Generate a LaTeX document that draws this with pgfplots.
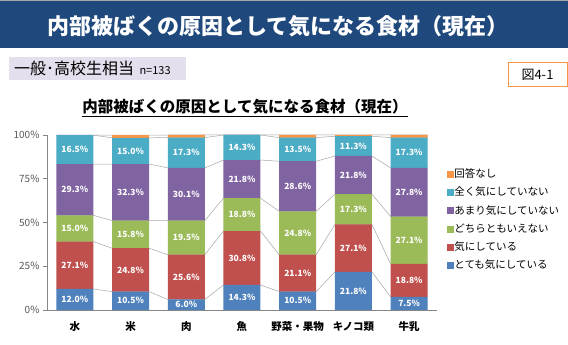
\documentclass[border=0pt]{standalone}
\usepackage{pgfplots}
\pgfplotsset{compat=1.18}
\usepackage{pgfplotstable}
\usepackage{fontspec}
\setmainfont{Noto Sans CJK JP}
\definecolor{cA}{HTML}{4F81BD}
\definecolor{cB}{HTML}{C0504D}
\definecolor{cC}{HTML}{9BBB59}
\definecolor{cD}{HTML}{8064A2}
\definecolor{cE}{HTML}{4BACC6}
\definecolor{cF}{HTML}{F79646}
\definecolor{banner}{HTML}{1F497D}
\definecolor{subbox}{HTML}{E4DFEC}
\definecolor{axgray}{HTML}{868686}
\definecolor{ticktext}{HTML}{595959}
\definecolor{serline}{HTML}{A6A6A6}

\pgfplotstableread{
x a b c d e f
0 12.0 27.1 15.0 29.3 16.5 0.0
1 10.5 24.8 15.8 32.3 15.0 1.5
2 6.0 25.6 19.5 30.1 17.3 1.5
3 14.3 30.8 18.8 21.8 14.3 0.0
4 10.5 21.1 24.8 28.6 13.5 1.5
5 21.8 27.1 17.3 21.8 11.3 0.8
6 7.5 18.8 27.1 27.8 17.3 1.5
}\maindata

% same values, at the left and right edges of each bar, for the series lines
\pgfplotstableread{
x a b c d e f
-0.332 12.0 27.1 15.0 29.3 16.5 0.0
0.332 12.0 27.1 15.0 29.3 16.5 0.0
0.668 10.5 24.8 15.8 32.3 15.0 1.5
1.332 10.5 24.8 15.8 32.3 15.0 1.5
1.668 6.0 25.6 19.5 30.1 17.3 1.5
2.332 6.0 25.6 19.5 30.1 17.3 1.5
2.668 14.3 30.8 18.8 21.8 14.3 0.0
3.332 14.3 30.8 18.8 21.8 14.3 0.0
3.668 10.5 21.1 24.8 28.6 13.5 1.5
4.332 10.5 21.1 24.8 28.6 13.5 1.5
4.668 21.8 27.1 17.3 21.8 11.3 0.8
5.332 21.8 27.1 17.3 21.8 11.3 0.8
5.668 7.5 18.8 27.1 27.8 17.3 1.5
6.332 7.5 18.8 27.1 27.8 17.3 1.5
}\conndata

\pgfplotsset{
  base/.style={
    at={(47pt,35pt)}, anchor=south west,
    width=390pt, height=175pt, scale only axis,
    xmin=-0.5, xmax=6.5, ymin=0, ymax=100, clip=false,
  },
}

\begin{document}
\begin{tikzpicture}[x=1pt,y=1pt]
\fill[white] (0pt,0pt) rectangle (568pt,345pt);
% banner
\fill[banner] (0pt,297pt) rectangle (568pt,345pt);
\fill[gray!70] (0pt,343.5pt) rectangle (568pt,345pt);
\node[text=white, font=\fontsize{22}{26}\selectfont\bfseries] at (278pt,319pt) {内部被ばくの原因として気になる食材（現在）};
% subtitle box
\fill[subbox] (9pt,265pt) rectangle (186pt,288pt);
\node[anchor=west, inner sep=0pt, font=\fontsize{16}{18}\selectfont] at (14pt,276.5pt) {一般･高校生相当\,\,{\fontsize{11}{13}\selectfont n=133}};
% figure number
\draw[cF, line width=1pt, fill=white] (508pt,258pt) rectangle (567pt,282pt);
\node[font=\fontsize{13}{15}\selectfont] at (537.5pt,270pt) {図4-1};
% chart title
\node[font=\fontsize{15.5}{18}\selectfont\bfseries] at (245pt,237pt) {\underline{内部被ばくの原因として気になる食材（現在）}};

% series lines (behind the bars)
\begin{axis}[base, hide axis]
\addplot[serline, line width=0.5pt, mark=none] table[x=x, y expr=\thisrow{a}] {\conndata};
\addplot[serline, line width=0.5pt, mark=none] table[x=x, y expr=\thisrow{a}+\thisrow{b}] {\conndata};
\addplot[serline, line width=0.5pt, mark=none] table[x=x, y expr=\thisrow{a}+\thisrow{b}+\thisrow{c}] {\conndata};
\addplot[serline, line width=0.5pt, mark=none] table[x=x, y expr=\thisrow{a}+\thisrow{b}+\thisrow{c}+\thisrow{d}] {\conndata};
\addplot[serline, line width=0.5pt, mark=none] table[x=x, y expr=\thisrow{a}+\thisrow{b}+\thisrow{c}+\thisrow{d}+\thisrow{e}] {\conndata};
\addplot[serline, line width=0.5pt, mark=none] table[x=x, y expr=\thisrow{a}+\thisrow{b}+\thisrow{c}+\thisrow{d}+\thisrow{e}+\thisrow{f}] {\conndata};
\end{axis}

% bars
\begin{axis}[base,
  ybar stacked, bar width=37pt,
  axis lines*=left,
  axis line style={draw=axgray, line width=0.8pt},
  xtick={0,...,6},
  xticklabels={水,米,肉,魚,野菜・果物,キノコ類,牛乳},
  x tick style={draw=none},
  xticklabel style={font=\fontsize{10.5}{12}\selectfont\bfseries, yshift=-4pt},
  ytick={0,25,50,75,100},
  yticklabel={\pgfmathprintnumber{\tick}\%},
  /pgf/number format/assume math mode=true,
  yticklabel style={font=\fontsize{10}{12}\selectfont, text=ticktext},
  y tick style={draw=axgray, line width=0.6pt},
  tick align=outside, major tick length=4pt,
  reverse legend,
  legend cell align=left,
  legend image code/.code={\fill[#1, draw=none] (0pt,-3.5pt) rectangle (7pt,3.5pt);},
  legend style={at={(1.026,0.806)}, anchor=north west, draw=none, fill=none,
    font=\fontsize{10.5}{12}\selectfont, row sep=8pt, inner sep=0pt,
    nodes={inner sep=0pt, text height=8.3pt, text depth=2pt},
    /tikz/every even column/.append style={column sep=2.5pt}},
]
\addplot[fill=cA, draw=none] table[x=x, y=a] {\maindata};
\addlegendentry{とても気にしている}
\addplot[fill=cB, draw=none] table[x=x, y=b] {\maindata};
\addlegendentry{気にしている}
\addplot[fill=cC, draw=none] table[x=x, y=c] {\maindata};
\addlegendentry{どちらともいえない}
\addplot[fill=cD, draw=none] table[x=x, y=d] {\maindata};
\addlegendentry{あまり気にしていない}
\addplot[fill=cE, draw=none] table[x=x, y=e] {\maindata};
\addlegendentry{全く気にしていない}
\addplot[fill=cF, draw=none] table[x=x, y=f] {\maindata};
\addlegendentry{回答なし}
\end{axis}

% value labels
\begin{axis}[base, hide axis,
  /pgf/number format/assume math mode=true,
  nodes near coords={\pgfmathprintnumber[fixed,fixed zerofill,precision=1]{\pgfplotspointmeta}\%},
  every node near coord/.append style={anchor=center, text=white, font=\fontsize{8.5}{10}\selectfont\bfseries},
]
\addplot[draw=none, mark=none, point meta=\thisrow{a}] table[x=x, y expr=\thisrow{a}/2] {\maindata};
\addplot[draw=none, mark=none, point meta=\thisrow{b}] table[x=x, y expr=\thisrow{a}+\thisrow{b}/2] {\maindata};
\addplot[draw=none, mark=none, point meta=\thisrow{c}] table[x=x, y expr=\thisrow{a}+\thisrow{b}+\thisrow{c}/2] {\maindata};
\addplot[draw=none, mark=none, point meta=\thisrow{d}] table[x=x, y expr=\thisrow{a}+\thisrow{b}+\thisrow{c}+\thisrow{d}/2] {\maindata};
\addplot[draw=none, mark=none, point meta=\thisrow{e}] table[x=x, y expr=\thisrow{a}+\thisrow{b}+\thisrow{c}+\thisrow{d}+\thisrow{e}/2] {\maindata};
\end{axis}
\pgfresetboundingbox
\useasboundingbox (0pt,0pt) rectangle (568pt,345pt);
\end{tikzpicture}
\end{document}
